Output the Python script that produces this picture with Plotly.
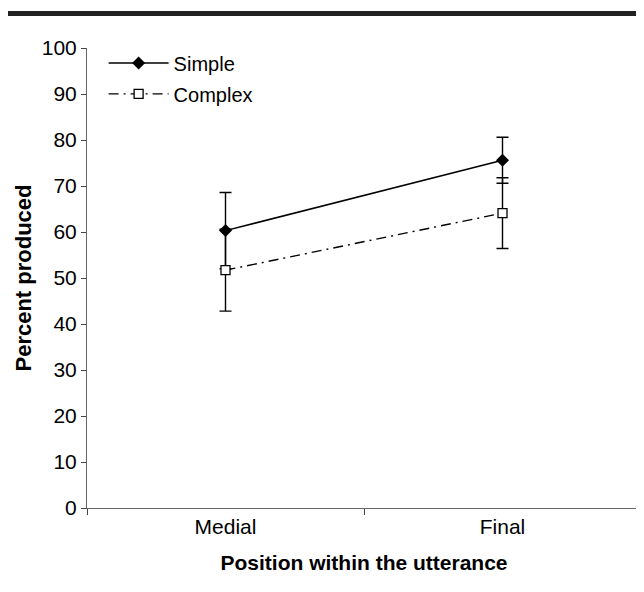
import plotly.graph_objects as go

categories = ["Medial", "Final"]
simple_vals = [60.3, 75.6]
simple_err = [8.3, 5.0]
complex_vals = [51.7, 64.1]
complex_err = [8.9, 7.7]
y_ticks = list(range(0, 101, 10))

FONT = "Liberation Sans, Arial, sans-serif"

fig = go.Figure()
fig.add_trace(go.Scatter(
    x=categories, y=simple_vals, name="Simple", mode="lines+markers",
    line=dict(color="black", width=1.5),
    marker=dict(symbol="diamond", size=10, color="black"),
    error_y=dict(type="data", array=simple_err, color="black", thickness=1.4, width=6),
    legendgroup="a",
))
fig.add_trace(go.Scatter(
    x=categories, y=complex_vals, name="Complex", mode="lines+markers",
    line=dict(color="black", width=1.4, dash="10px,5px,2px,5px"),
    marker=dict(symbol="square", size=9, color="white", line=dict(color="black", width=1.3)),
    error_y=dict(type="data", array=complex_err, color="black", thickness=1.4, width=6),
    legendgroup="b",
))

fig.update_layout(
    width=636, height=584,
    margin=dict(l=79, r=3, t=40, b=84),
    plot_bgcolor="white", paper_bgcolor="white",
    font=dict(family=FONT, size=20, color="black"),
    showlegend=True,
    legend=dict(x=0.03, y=1.01, xanchor="left", yanchor="top",
                bgcolor="rgba(0,0,0,0)", font=dict(size=20), itemwidth=60,
                tracegroupgap=2, traceorder="grouped"),
    shapes=[dict(type="rect", xref="paper", yref="paper",
                 x0=-0.1426, x1=1.0054, y0=1.0696, y1=1.0804,
                 fillcolor="#222", line=dict(width=0))],
)
fig.update_xaxes(
    type="category", tickson="boundaries", ticks="outside", ticklen=6,
    tickcolor="#444", showline=True, linecolor="#666", linewidth=1,
    showgrid=False, zeroline=False, automargin=False,
    title=dict(text="<b>Position within the utterance</b>", font=dict(size=21), standoff=18),
    tickfont=dict(size=21), range=[-0.5, 1.5],
)
fig.update_yaxes(
    range=[0, 100], tickvals=y_ticks, ticks="outside", ticklen=5,
    tickcolor="#444", showline=True, linecolor="#666", linewidth=1,
    showgrid=False, zeroline=False, automargin=False,
    title=dict(text="<b>Percent produced</b>", font=dict(size=22), standoff=4),
    tickfont=dict(size=21),
)

fig.write_html("out.html")
